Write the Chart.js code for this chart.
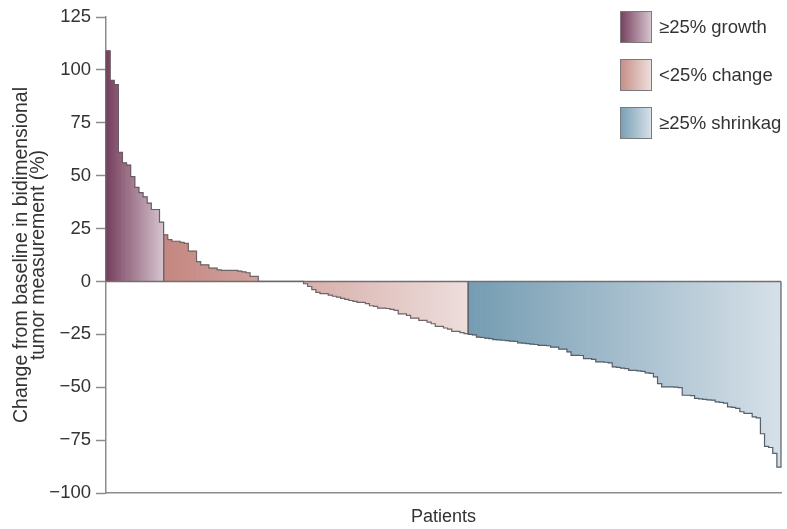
<!DOCTYPE html>
<html>
<head>
<meta charset="utf-8">
<script src="https://cdn.jsdelivr.net/npm/chart.js@4.4.0/dist/chart.umd.min.js"></script>
<style>
    body { margin: 0; background: #fff; }
    #wrap { width: 787px; height: 529px; }
</style>
</head>
<body>
<div id="wrap"><canvas id="waterfall" width="787" height="529"></canvas></div>
<script>
// values, one bar per patient, sorted
const growthValues = [109, 95, 93, 61, 56, 55, 49.5, 44.5, 42, 40, 37, 34, 34, 28];
const changeValues = [
    22, 19.8, 19, 19, 18.5, 18, 14.3, 14.3, 9.4, 7.8, 7.8, 6.3, 6.3, 5.5, 5.2, 5.2, 5.2, 5.2, 4.9, 4.5, 4.1, 2.4, 2.4,
    0, 0, 0, 0, 0, 0, 0, 0, 0, 0, 0,
    -1.1, -2.4, -3.9, -5.2, -5.8, -5.8, -6.5, -7.0, -7.4, -8, -8.5, -9.0, -9.4, -9.9, -9.9, -10.5, -11.5, -11.8, -12.6, -12.6,
    -12.8, -13.2, -13.7, -15.3, -15.3, -16, -17.3, -17.3, -18.4, -18.4, -19.2, -20, -21.2, -21.2, -22, -22.5, -23.6, -23.6, -24.2, -24.7
];
const shrinkValues = [
    -25, -25.3, -26.3, -26.5, -26.8, -27, -27.5, -27.6, -27.8, -28, -28.2, -28.3, -29, -29.2, -29.4, -29.6, -29.8, -30.2, -30.2, -30.4,
    -31, -31, -32, -32, -33.3, -34.9, -34.9, -35, -36.5, -36.5, -36.8, -38, -38, -38.2, -38.5, -40.4, -40.6, -41, -41.2, -42,
    -42, -42.3, -42.5, -43.2, -43.5, -45.1, -48.3, -49.8, -49.8, -49.8, -50, -50.2, -53.8, -53.8, -54, -55.3, -55.5, -55.7, -56, -56.1,
    -56.9, -57.2, -57.5, -59.3, -59.5, -60, -61.6, -62.4, -62.4, -64, -64.5, -72, -78, -78.5, -81.3, -87.8
];
const yTickValues = [125, 100, 75, 50, 25, 0, -25, -50, -75, -100];
const legendLabels = ["≥25% growth", "<25% change", "≥25% shrinkag"];
const yTitle = ["Change from baseline in bidimensional", "tumor measurement (%)"];
const xTitle = "Patients";

const FONT = '"Liberation Sans", Arial, sans-serif';
const TEXT = "#333";
const AXIS = "#8c8c8c";

const groupStyles = [
    {bar: ["rgb(118,62,92)", "rgb(214,196,206)"], box: ["rgb(118,62,92)", "rgb(214,196,206)"], line: "#6a5a62"},
    {bar: ["rgb(196,134,128)", "rgb(237,222,220)"], box: ["rgb(198,140,133)", "rgb(237,222,220)"], line: "#6e6666"},
    {bar: ["rgb(116,156,178)", "rgb(214,224,232)"], box: ["rgb(118,158,180)", "rgb(214,224,232)"], line: "#56606a"}
];

const groups = [growthValues, changeValues, shrinkValues];
const total = groups.reduce((n, g) => n + g.length, 0);
const patients = Array.from({length: total}, (_, i) => i + 1);

function groupGradient(chart, start, count, colors) {
    const x = chart.scales.x;
    if (!x || !chart.chartArea) return colors[0];
    const half = x.width / total / 2;
    const x0 = x.getPixelForValue(start) - half;
    const x1 = x.getPixelForValue(start + count - 1) + half;
    if (!isFinite(x0) || !isFinite(x1)) return colors[0];
    const g = chart.ctx.createLinearGradient(x0, 0, x1, 0);
    g.addColorStop(0, colors[0]);
    g.addColorStop(1, colors[1]);
    return g;
}

let offset = 0;
const datasets = groups.map((values, gi) => {
    const start = offset;
    const data = new Array(total).fill(null);
    values.forEach((v, i) => data[start + i] = v);
    offset += values.length;
    return {
        label: legendLabels[gi],
        data: data,
        grouped: false,
        barPercentage: 1,
        categoryPercentage: 1,
        borderWidth: 0,
        outlineColor: groupStyles[gi].line,
        backgroundColor: ctx => groupGradient(ctx.chart, start, values.length, groupStyles[gi].bar)
    };
});

// step outline around each group, plus the zero line
const outlinePlugin = {
    id: "outline",
    afterDatasetsDraw(chart) {
        const ctx = chart.ctx;
        const base = chart.scales.y.getPixelForValue(0);
        const area = chart.chartArea;
        ctx.save();
        ctx.strokeStyle = "#707070";
        ctx.lineWidth = 1.5;
        ctx.beginPath();
        ctx.moveTo(area.left, base);
        ctx.lineTo(area.right, base);
        ctx.stroke();
        chart.data.datasets.forEach((ds, di) => {
            const bars = chart.getDatasetMeta(di).data.filter((b, i) => ds.data[i] !== null);
            ctx.beginPath();
            bars.forEach((b, k) => {
                const l = b.x - b.width / 2, r = b.x + b.width / 2;
                if (k === 0) ctx.moveTo(l, base);
                ctx.lineTo(l, b.y);
                ctx.lineTo(r, b.y);
            });
            const last = bars[bars.length - 1];
            ctx.lineTo(last.x + last.width / 2, base);
            ctx.strokeStyle = ds.outlineColor;
            ctx.lineWidth = 1.2;
            ctx.stroke();
        });
        ctx.restore();
    }
};

const legendPlugin = {
    id: "boxLegend",
    afterDraw(chart) {
        const ctx = chart.ctx;
        ctx.save();
        legendLabels.forEach((label, i) => {
            const x = 620, y = 11 + i * 48, w = 31, h = 31;
            const g = ctx.createLinearGradient(x, 0, x + w, 0);
            g.addColorStop(0, groupStyles[i].box[0]);
            g.addColorStop(1, groupStyles[i].box[1]);
            ctx.fillStyle = g;
            ctx.fillRect(x, y, w, h);
            ctx.strokeStyle = "#7a7a7a";
            ctx.lineWidth = 1;
            ctx.strokeRect(x + 0.5, y + 0.5, w, h);
            ctx.fillStyle = TEXT;
            ctx.font = "18.5px " + FONT;
            ctx.textBaseline = "middle";
            ctx.fillText(label, 659, y + h / 2 + 1);
        });
        ctx.restore();
    }
};

new Chart("waterfall", {
    type: "bar",
    data: {
        labels: patients,
        datasets: datasets
    },
    plugins: [outlinePlugin, legendPlugin],
    options: {
        responsive: false,
        animation: false,
        layout: { padding: { top: 17, right: 6, left: 0, bottom: 0 } },
        plugins: {
            legend: { display: false },
            tooltip: { enabled: false }
        },
        scales: {
            x: {
                ticks: { display: false },
                grid: { drawOnChartArea: false, drawTicks: false },
                border: { color: AXIS, width: 1.5 },
                title: {
                    display: true,
                    text: xTitle,
                    color: TEXT,
                    font: { size: 18, family: FONT },
                    padding: { top: 0, bottom: 1 }
                },
                afterFit: s => { s.height = 36; }
            },
            y: {
                min: -100,
                max: 125,
                afterBuildTicks: s => { s.ticks = yTickValues.map(v => ({ value: v })); },
                ticks: {
                    color: TEXT,
                    padding: 5,
                    font: { size: 18.5, family: FONT },
                    callback: v => v < 0 ? "\u2212" + Math.abs(v) : String(v)
                },
                grid: { drawOnChartArea: false, tickLength: 10, tickColor: AXIS, tickWidth: 1.5 },
                border: { color: AXIS, width: 1.5 },
                title: {
                    display: true,
                    text: yTitle,
                    color: TEXT,
                    font: { size: 19.5, family: FONT, lineHeight: 0.85 },
                    padding: { top: 13.5, bottom: 0 }
                },
                afterFit: s => { s.width = 106; }
            }
        }
    }
});
</script>
</body>
</html>
